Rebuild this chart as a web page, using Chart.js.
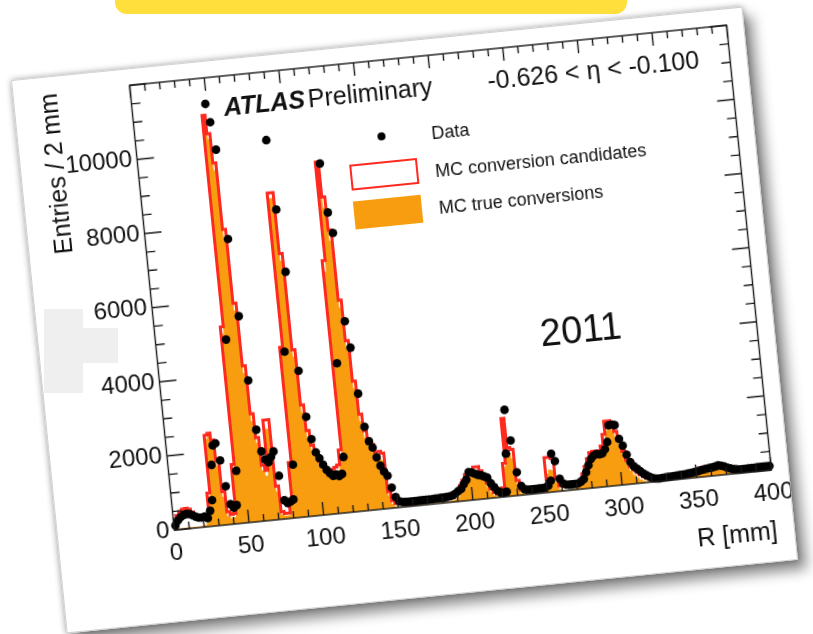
<!DOCTYPE html>
<html>
<head>
<meta charset="utf-8">
<script src="https://cdn.jsdelivr.net/npm/chart.js@4.4.1/dist/chart.umd.min.js"></script>
<style>
  body { margin: 0; width: 813px; height: 634px; background: #fff; position: relative; overflow: hidden;
         font-family: 'Liberation Sans', Arial, Helvetica, sans-serif; }
  #banner { position: absolute; left: 115px; top: -14px; width: 512px; height: 28px; background: #ffdf3c; border-radius: 12px; }
  #card { position: absolute; left: 37px; top: 42px; width: 735px; height: 556px; background: #fff;
          transform: rotate(-5.75deg); border: 1px solid #d0d0d0; box-sizing: border-box;
          box-shadow: 0 0 6px rgba(0,0,0,0.35), 8px 10px 13px rgba(0,0,0,0.45); }
  #card canvas { position: absolute; left: -1px; top: -1px; }
  .t { position: absolute; white-space: nowrap; color: #111; }
  .blob { position: absolute; background: #efefef; }
</style>
</head>
<body>
<div id="banner"></div>
<div id="card">
  <canvas id="plot" width="735" height="556"></canvas>
  <div class="t" style="left:208px; top:35px; font-size:25px; line-height:25px;"><b><i>ATLAS</i></b><span style="margin-left:3px;">Preliminary</span></div>
  <div class="t" style="left:473px; top:35px; font-size:25px; line-height:25px;">-0.626 &lt; η &lt; -0.100</div>
  <div style="position:absolute; left:358px; top:88px; width:8px; height:8px; border-radius:50%; background:#000;"></div>
  <div class="t" style="left:412px; top:85px; font-size:18px; line-height:18px;">Data</div>
  <div style="position:absolute; left:327px; top:117px; width:64px; height:22px; border:2px solid #ff2a1f; background:#fff;"></div>
  <div class="t" style="left:412px; top:123px; font-size:18px; line-height:18px;">MC conversion candidates</div>
  <div style="position:absolute; left:327px; top:154px; width:68px; height:28px; background:#f99d10;"></div>
  <div class="t" style="left:412px; top:160px; font-size:18px; line-height:18px;">MC true conversions</div>
  <div class="t" style="left:500px; top:285px; font-size:38px; line-height:38px;">2011</div>
</div>
<div class="blob" style="left:44px; top:309px; width:39px; height:84px;"></div>
<div class="blob" style="left:83px; top:328px; width:35px; height:35px;"></div>

<script>
// histogramme en bins de 2 mm, R de 0 a 400 mm
const binWidth = 2;
const rMin = 0;
const rMax = 400;
const yMax = 12000;

const xTickLabels = [0, 50, 100, 150, 200, 250, 300, 350, 400];
const yTickLabels = [0, 2000, 4000, 6000, 8000, 10000];

// Data (points noirs), une valeur par bin
const dataCounts = [
  120, 250, 330, 380, 400, 390, 350, 300, 270, 260,
  280, 230, 420, 700, 1640, 2160, 2210, 1740, 1035, 540,
  440, 500, 1420, 4950, 11300, 10800, 10050, 7630, 5540, 3800,
  2460, 1870, 1640, 1560, 1700, 1835, 1170, 500, 420, 450,
  500, 1430, 4470, 10170, 8290, 6600, 3920, 2670, 2060, 1700,
  1530, 1350, 1200, 1100, 1020, 1050, 1000, 1050, 1500, 4020,
  9400, 8070, 7510, 5120, 4400, 3150, 2250, 1850, 1670, 1400,
  1165, 1000, 880, 550, 290, 160, 140, 130, 125, 125,
  125, 125, 130, 130, 130, 135, 135, 140, 140, 145,
  145, 150, 160, 180, 220, 280, 330, 450, 560, 757,
  740, 700, 660, 640, 600, 560, 400, 290, 180, 120,
  110, 130, 1150, 2325, 1490, 625, 250, 150, 130, 125,
  125, 125, 130, 130, 140, 180, 310, 1025, 820, 335,
  200, 160, 150, 150, 155, 160, 200, 260, 440, 620,
  780, 860, 900, 880, 900, 1000, 1190, 1630, 1640, 1620,
  1240, 1050, 800, 590, 470, 395, 320, 250, 190, 140,
  100, 80, 75, 80, 85, 90, 95, 100, 105, 110,
  110, 120, 130, 140, 150, 165, 180, 195, 210, 220,
  230, 245, 265, 250, 220, 180, 150, 125, 110, 100,
  100, 100, 105, 105, 105, 110, 110, 110, 115, 115,
];

// MC conversion candidates (contour rouge)
const mcCandidates = [
  60, 200, 380, 480, 540, 550, 520, 430, 330, 290,
  290, 270, 330, 900, 2450, 2500, 2300, 1750, 900, 350,
  260, 280, 1600, 5300, 11000, 10500, 9700, 7900, 5900, 4200,
  2900, 2250, 1500, 1350, 2700, 2700, 900, 200, 150, 150,
  450, 1500, 4600, 8750, 8750, 7100, 4500, 3000, 2300, 1900,
  1650, 1450, 1350, 1250, 1200, 1200, 1250, 1300, 1700, 6800,
  9450, 8500, 7600, 5700, 4600, 3500, 2600, 2150, 1900, 1750,
  1550, 1550, 1500, 450, 200, 120, 110, 105, 100, 100,
  100, 100, 105, 105, 105, 110, 110, 115, 115, 120,
  120, 125, 135, 150, 180, 230, 300, 420, 560, 700,
  760, 820, 880, 880, 760, 600, 420, 250, 150, 100,
  95, 250, 900, 2100, 1300, 1250, 400, 150, 110, 105,
  105, 105, 110, 110, 115, 200, 940, 940, 900, 350,
  150, 130, 125, 125, 130, 160, 200, 260, 400, 600,
  800, 950, 980, 950, 980, 1100, 1400, 1750, 1750, 1700,
  1450, 1200, 900, 650, 480, 380, 300, 230, 170, 120,
  85, 70, 65, 70, 72, 75, 80, 85, 90, 95,
  95, 105, 120, 140, 160, 180, 200, 240, 260, 270,
  280, 290, 290, 280, 240, 180, 130, 100, 90, 85,
  85, 85, 88, 88, 90, 92, 92, 95, 95, 95,
];

// MC true conversions (rempli orange)
const mcTrue = [
  5, 10, 20, 30, 30, 30, 30, 25, 20, 20,
  30, 40, 100, 800, 2350, 2400, 2200, 1600, 750, 220,
  160, 180, 1450, 5100, 10850, 10350, 9500, 7700, 5700, 4000,
  2700, 2100, 1350, 1200, 2450, 2450, 750, 120, 80, 80,
  350, 1350, 4400, 8600, 8600, 6900, 4300, 2800, 2100, 1750,
  1500, 1300, 1200, 1100, 1050, 1050, 1100, 1150, 1550, 6500,
  9050, 8200, 7300, 5500, 4400, 3300, 2400, 1950, 1700, 1550,
  1350, 1350, 1300, 350, 100, 30, 15, 10, 10, 10,
  10, 10, 10, 10, 10, 10, 10, 10, 10, 10,
  10, 10, 15, 20, 40, 60, 120, 250, 420, 580,
  640, 700, 740, 740, 620, 480, 300, 150, 60, 20,
  10, 150, 800, 1200, 1150, 1000, 300, 50, 10, 10,
  10, 10, 10, 10, 15, 100, 500, 600, 580, 250,
  50, 15, 10, 10, 15, 30, 60, 120, 250, 450,
  650, 780, 820, 800, 850, 950, 1250, 1500, 1550, 1500,
  1300, 1050, 780, 520, 350, 230, 150, 90, 50, 20,
  10, 10, 10, 10, 10, 10, 10, 10, 10, 10,
  10, 15, 20, 30, 50, 80, 120, 160, 180, 190,
  200, 205, 210, 200, 170, 120, 60, 20, 10, 10,
  10, 10, 10, 10, 10, 10, 10, 10, 10, 10,
];

const colors = {
  fill: '#f99d10',
  line: '#ff2a1f',
  data: '#000000',
  text: '#111111',
  frame: '#1a1a1a',
};

// marches d'histogramme : un point par bord gauche + le bord final
function histSteps(values) {
  const pts = values.map((v, i) => ({ x: rMin + i * binWidth, y: v }));
  pts.push({ x: rMax, y: values[values.length - 1] });
  return pts;
}

const dataPoints = dataCounts.map((v, i) => ({ x: rMin + (i + 0.5) * binWidth, y: v }));

// cadre + graduations façon ROOT (vers l'interieur, sur les 4 cotes)
const rootFrame = {
  id: 'rootFrame',
  afterDatasetsDraw(chart) {
    const { ctx, chartArea: a, scales: { x, y } } = chart;
    ctx.save();
    ctx.strokeStyle = colors.frame;
    ctx.lineWidth = 1.4;
    ctx.strokeRect(a.left, a.top, a.right - a.left, a.bottom - a.top);
    ctx.beginPath();
    for (let r = rMin; r <= rMax; r += 10) {
      const px = x.getPixelForValue(r);
      const len = xTickLabels.includes(r) ? 13 : 7;
      ctx.moveTo(px, a.bottom); ctx.lineTo(px, a.bottom - len);
      ctx.moveTo(px, a.top); ctx.lineTo(px, a.top + len);
    }
    for (let v = 0; v <= yMax; v += 500) {
      const py = y.getPixelForValue(v);
      const len = v % 2000 === 0 ? 17 : 9;
      ctx.moveTo(a.left, py); ctx.lineTo(a.left + len, py);
      ctx.moveTo(a.right, py); ctx.lineTo(a.right - len, py);
    }
    ctx.stroke();
    ctx.restore();
  },
};

Chart.defaults.font.family = "'Liberation Sans', Arial, Helvetica, sans-serif";
Chart.defaults.color = colors.text;

new Chart(document.getElementById('plot'), {
  type: 'line',
  data: {
    datasets: [
      {
        label: 'MC true conversions',
        data: histSteps(mcTrue),
        stepped: 'after',
        fill: 'origin',
        backgroundColor: colors.fill,
        borderColor: colors.fill,
        borderWidth: 0.5,
        pointRadius: 0,
        order: 3,
      },
      {
        label: 'MC conversion candidates',
        data: histSteps(mcCandidates),
        stepped: 'after',
        fill: false,
        borderColor: colors.line,
        borderWidth: 3,
        borderJoinStyle: 'miter',
        pointRadius: 0,
        order: 2,
      },
      {
        label: 'Data',
        data: dataPoints,
        showLine: false,
        pointRadius: 4.3,
        pointBackgroundColor: colors.data,
        pointBorderColor: colors.data,
        pointBorderWidth: 0,
        clip: false,
        order: 1,
      },
    ],
  },
  options: {
    responsive: false,
    animation: false,
    events: [],
    layout: { padding: { left: 0, top: 17, right: 17.5, bottom: 0 } },
    plugins: { legend: { display: false }, tooltip: { enabled: false } },
    scales: {
      x: {
        type: 'linear',
        min: rMin,
        max: rMax,
        grid: { display: false, drawTicks: false },
        border: { display: false },
        ticks: {
          stepSize: 10,
          autoSkip: false,
          maxRotation: 0,
          padding: 9,
          font: { size: 24 },
          callback: v => (xTickLabels.includes(v) ? String(v) : ''),
        },
        title: { display: true, text: 'R [mm]', align: 'end', font: { size: 25 }, padding: { top: 0, bottom: 15 } },
        afterFit(s) { s.height = 92; s.paddingLeft = 0; s.paddingRight = 0; },
      },
      y: {
        type: 'linear',
        min: 0,
        max: yMax,
        grid: { display: false, drawTicks: false },
        border: { display: false },
        ticks: {
          stepSize: 500,
          autoSkip: false,
          padding: 5,
          font: { size: 24 },
          callback: v => (yTickLabels.includes(v) ? String(v) : ''),
        },
        title: { display: true, text: 'Entries / 2 mm', align: 'end', font: { size: 25 }, padding: { top: 22, bottom: 0 } },
        afterFit(s) { s.width = 117.5; s.paddingTop = 0; s.paddingBottom = 0; },
      },
    },
  },
  plugins: [rootFrame],
});
</script>
</body>
</html>
